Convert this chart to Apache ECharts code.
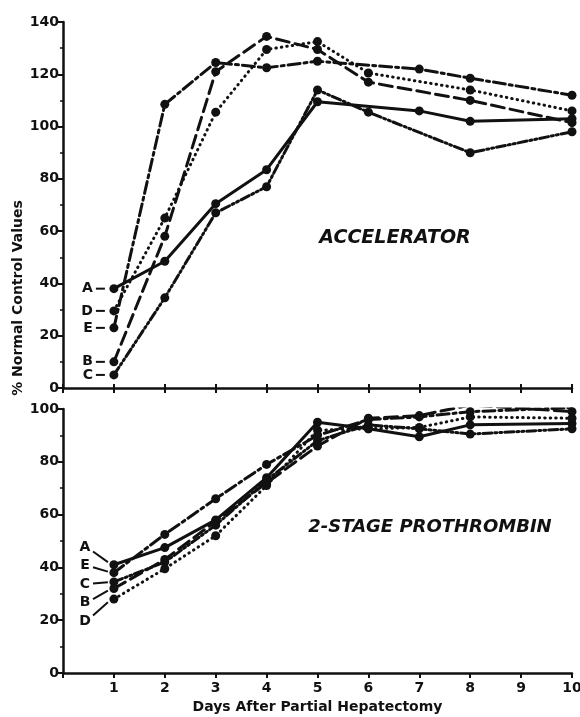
<!DOCTYPE html>
<html>
<head>
<meta charset="utf-8">
<script src="https://cdn.jsdelivr.net/npm/echarts@6/dist/echarts.min.js"></script>
<style>
  html, body { margin: 0; padding: 0; background: #fff; }
  #chart { width: 580px; height: 717px; }
</style>
</head>
<body>
<div id="chart"></div>
<script>
const days = [1, 2, 3, 4, 5, 6, 7, 8, 9, 10]
const names = ['A', 'B', 'C', 'D', 'E']

// accelerator (top panel), null = no point that day
const accelA = [38, 48.5, 70.5, 83.5, 109.5, null, 106, 102, null, 103]
const accelB = [10, 58, 121, 134.5, 129.5, 117, null, 110, null, 101.5]
const accelC = [5, 34.5, 67, 77, 114, 105.5, null, 90, null, 98]
const accelD = [29.5, 65, 105.5, 129.5, 132.5, 120.5, null, 114, null, 106]
const accelE = [23, 108.5, 124.5, 122.5, 125, null, 122, 118.5, null, 112]

// 2-stage prothrombin (bottom panel)
const prothA = [41, 47.5, 58, 74, 95, 92.5, 89.5, 94, null, 94.5]
const prothB = [32, 43, 57.5, 72, 86, 96.5, 97.5, 101.5, null, 99]
const prothC = [34.5, 42, 56, 73, 88, 94, 92.5, 90.5, null, 92.5]
const prothD = [28, 39.5, 52, 71, 92, 92.5, 93, 97, null, 96.5]
const prothE = [38, 52.5, 66, 79, 90, 96, 97, 99, null, 100.5]

const accel = [accelA, accelB, accelC, accelD, accelE]
const proth = [prothA, prothB, prothC, prothD, prothE]

const lineTypes = {
  A: 'solid',
  B: [13, 6],
  C: [9, 3, 2, 3, 2, 3],
  D: [0.5, 5],
  E: [12, 4, 3, 4]
}

const font = 'DejaVu Sans'
const ink = '#111'

const pairs = arr => days.map((d, i) => [d, arr[i]]).filter(p => p[1] != null)

const mkSeries = (vals, idx, gridIdx) => vals.map((arr, i) => ({
  name: names[i] + idx,
  type: 'line',
  xAxisIndex: gridIdx,
  yAxisIndex: gridIdx,
  data: pairs(arr),
  symbol: 'circle',
  symbolSize: 9,
  connectNulls: true,
  itemStyle: { color: ink },
  lineStyle: { color: ink, width: 3, type: lineTypes[names[i]], cap: 'round' },
  animation: false
}))

const xBase = (gridIndex, labels) => ({
  gridIndex,
  type: 'value',
  min: 0,
  max: 10,
  interval: 1,
  axisLine: { show: true, lineStyle: { color: ink, width: 2.5 } },
  axisTick: { show: true, length: 5, lineStyle: { color: ink, width: 2 } },
  axisLabel: {
    show: labels,
    color: ink,
    fontFamily: font,
    fontWeight: 'bold',
    fontSize: 14,
    margin: 8,
    formatter: v => (v === 0 ? '' : v)
  },
  splitLine: { show: false }
})

const yBase = (gridIndex, max) => ({
  gridIndex,
  type: 'value',
  min: 0,
  max,
  interval: 20,
  axisLine: { show: true, lineStyle: { color: ink, width: 2.5 } },
  axisTick: { show: true, length: 5, lineStyle: { color: ink, width: 2 } },
  minorTick: { show: true, splitNumber: 2, length: 3, lineStyle: { color: ink, width: 1.5 } },
  axisLabel: { color: ink, fontFamily: font, fontWeight: 'bold', fontSize: 14, margin: 4 },
  splitLine: { show: false }
})

const chart = echarts.init(document.getElementById('chart'))

chart.setOption({
  backgroundColor: '#fff',
  animation: false,
  grid: [
    { left: 63, right: 8, top: 22, height: 366, outerBoundsMode: 'none' },
    { left: 63, right: 8, top: 409, height: 264, outerBoundsMode: 'none' }
  ],
  xAxis: [
    xBase(0, false),
    Object.assign(xBase(1, true), {
      name: 'Days After Partial Hepatectomy',
      nameLocation: 'middle',
      nameGap: 27,
      nameTextStyle: { color: ink, fontFamily: font, fontWeight: 'bold', fontSize: 14 }
    }),
    {
      gridIndex: 0, type: 'value', min: 0, max: 10, interval: 1, position: 'bottom',
      axisLine: { show: false },
      axisTick: { show: true, inside: true, length: 4, lineStyle: { color: ink, width: 2 } },
      axisLabel: { show: false },
      splitLine: { show: false }
    }
  ],
  yAxis: [yBase(0, 140), yBase(1, 100)],
  series: [...mkSeries(accel, 'top', 0), ...mkSeries(proth, 'bot', 1)]
})

// text and series labels
const g = [
  {
    type: 'text', x: 18, y: 298, rotation: Math.PI / 2,
    style: { text: '% Normal Control Values', font: 'bold 14px "DejaVu Sans"', fill: ink, textAlign: 'center', textVerticalAlign: 'middle' }
  },
  {
    type: 'text', x: 395, y: 238,
    style: { text: 'ACCELERATOR', font: 'italic bold 19px "DejaVu Sans"', fill: ink, textAlign: 'center', textVerticalAlign: 'middle' }
  },
  {
    type: 'text', x: 430, y: 527,
    style: { text: '2-STAGE PROTHROMBIN', font: 'italic bold 18px "DejaVu Sans"', fill: ink, textAlign: 'center', textVerticalAlign: 'middle' }
  }
]

accel.forEach((arr, i) => {
  const p = chart.convertToPixel({ gridIndex: 0 }, [days[0], arr[0]])
  g.push({
    type: 'text', x: p[0] - 21, y: p[1],
    style: { text: names[i], font: 'bold 14px "DejaVu Sans"', fill: ink, textAlign: 'right', textVerticalAlign: 'middle' }
  })
  g.push({
    type: 'line', shape: { x1: p[0] - 18, y1: p[1], x2: p[0] - 9, y2: p[1] },
    style: { stroke: ink, lineWidth: 2 }
  })
})

// bottom labels are spread out with leader lines
const botOrder = ['A', 'E', 'C', 'B', 'D']
botOrder.forEach((n, k) => {
  const i = names.indexOf(n)
  const p = chart.convertToPixel({ gridIndex: 1 }, [days[0], proth[i][0]])
  const ly = 547 + k * 18.5
  g.push({
    type: 'text', x: 85, y: ly,
    style: { text: n, font: 'bold 14px "DejaVu Sans"', fill: ink, textAlign: 'center', textVerticalAlign: 'middle' }
  })
  const sy = ly + (p[1] - ly) * 0.25
  g.push({
    type: 'line', shape: { x1: 93, y1: sy, x2: p[0] - 6, y2: p[1] + (ly - p[1]) * 0.15 },
    style: { stroke: ink, lineWidth: 2 }
  })
})

chart.setOption({ graphic: g })
</script>
</body>
</html>
